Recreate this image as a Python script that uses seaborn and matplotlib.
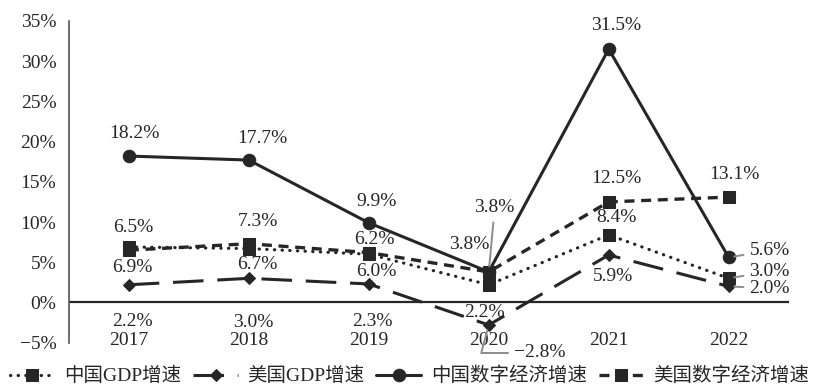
import matplotlib
matplotlib.use("Agg")
import matplotlib.pyplot as plt
import matplotlib.ticker as mticker
import seaborn as sns
import pandas as pd

# ---- data -------------------------------------------------------------
years = ["2017", "2018", "2019", "2020", "2021", "2022"]
cn_gdp = [6.9, 6.7, 6.0, 2.2, 8.4, 3.0]
us_gdp = [2.2, 3.0, 2.3, -2.8, 5.9, 2.0]
cn_digital = [18.2, 17.7, 9.9, 3.8, 31.5, 5.6]
us_digital = [6.5, 7.3, 6.2, 3.8, 12.5, 13.1]
series_names = ["中国GDP增速", "美国GDP增速", "中国数字经济增速", "美国数字经济增速"]
y_ticks = [-5, 0, 5, 10, 15, 20, 25, 30, 35]

# ---- style ------------------------------------------------------------
sns.set_theme(style="white")
plt.rcParams["font.family"] = ["Liberation Serif", "Noto Sans CJK SC"]
plt.rcParams["axes.unicode_minus"] = True

INK = "#262626"
GREY = "#8c8c8c"

styles = {
    "中国GDP增速": dict(linestyle=(0, (0.1, 2.3)), marker="s", markersize=9, lw=2.3,
                    dash_capstyle="round"),
    "美国GDP增速": dict(linestyle=(0, (10, 4.5)), marker="D", markersize=6, lw=2.2),
    "中国数字经济增速": dict(linestyle="-", marker="o", markersize=9, lw=2.2),
    "美国数字经济增速": dict(linestyle=(0, (3, 2)), marker="s", markersize=9, lw=2.4),
}

# label offsets (pixels) relative to each point
offsets = {
    "中国GDP增速": [(4, -21), (9, -16), (8, -17), (-4, -28), (8, 17), (41, 7)],
    "美国GDP增速": [(4, -37), (4, -44), (4, -38), (51, -28), (4, -21), (41, -2)],
    "中国数字经济增速": [(6, 23), (14, 22), (8, 21), (-19, 27), (7, 24), (41, 7)],
    "美国数字经济增速": [(4, 23), (9, 22), (6, 13), (6, 64), (8, 23), (6, 23)],
}
# points whose labels are tied back with a thin leader line
leaders = {
    ("中国GDP增速", 5): "arc3",
    ("美国GDP增速", 3): "angle,angleA=0,angleB=75,rad=0",
    ("美国GDP增速", 5): "arc3",
    ("中国数字经济增速", 5): "arc3",
    ("美国数字经济增速", 3): "arc3",
}

data = {
    "中国GDP增速": cn_gdp,
    "美国GDP增速": us_gdp,
    "中国数字经济增速": cn_digital,
    "美国数字经济增速": us_digital,
}
x_pos = list(range(len(years)))

fig = plt.figure(figsize=(8.19, 3.87), dpi=100)
ax = fig.add_axes([0.084, 0.1145, 0.879, 0.8315])

for name in series_names:
    df = pd.DataFrame({"x": x_pos, "y": data[name]})
    st = styles[name]
    extra = {"dash_capstyle": st["dash_capstyle"]} if "dash_capstyle" in st else {}
    sns.lineplot(data=df, x="x", y="y", ax=ax, color=INK, label=name,
                 linestyle=st["linestyle"], marker=st["marker"],
                 markersize=st["markersize"], linewidth=st["lw"],
                 markeredgecolor=INK, markerfacecolor=INK, **extra)

# value labels
for name in series_names:
    for i, v in enumerate(data[name]):
        dx, dy = offsets[name][i]
        txt = f"{v:.1f}%".replace("-", "\u2212")
        kw = {}
        if (name, i) in leaders:
            kw["arrowprops"] = dict(arrowstyle="-", color=GREY, lw=1.4,
                                    shrinkA=2, shrinkB=4,
                                    connectionstyle=leaders[(name, i)])
        ax.annotate(txt, xy=(i, v), xytext=(dx, dy), textcoords="offset pixels",
                    ha="center", va="center", fontsize=14, color=INK, **kw)

# axes
ax.set_xlim(-0.5, len(years) - 0.5)
ax.set_ylim(-5, 35)
ax.set_yticks(y_ticks)
ax.yaxis.set_major_formatter(mticker.FuncFormatter(
    lambda v, p: f"{v:.0f}%".replace("-", "\u2212")))
ax.set_xticks(x_pos)
ax.set_xticklabels(years)
ax.set_xlabel("")
ax.set_ylabel("")
ax.tick_params(axis="y", length=0, pad=9, labelsize=14, labelcolor=INK)
ax.tick_params(axis="x", length=0, pad=-8, labelsize=14, labelcolor=INK)
ax.axhline(0, color=INK, lw=1.6, zorder=1)
for s in ["top", "right", "bottom"]:
    ax.spines[s].set_visible(False)
ax.spines["left"].set_color("#555555")
ax.spines["left"].set_linewidth(1.2)

leg = ax.legend(loc="lower center", bbox_to_anchor=(0.5, 0.004), bbox_transform=fig.transFigure,
                ncol=4, frameon=False, fontsize=14, handlelength=2.3,
                handletextpad=0.5, columnspacing=0.6, borderaxespad=0.0, borderpad=0.0)
for t in leg.get_texts():
    t.set_color(INK)

fig.savefig("out.png", dpi=100)
